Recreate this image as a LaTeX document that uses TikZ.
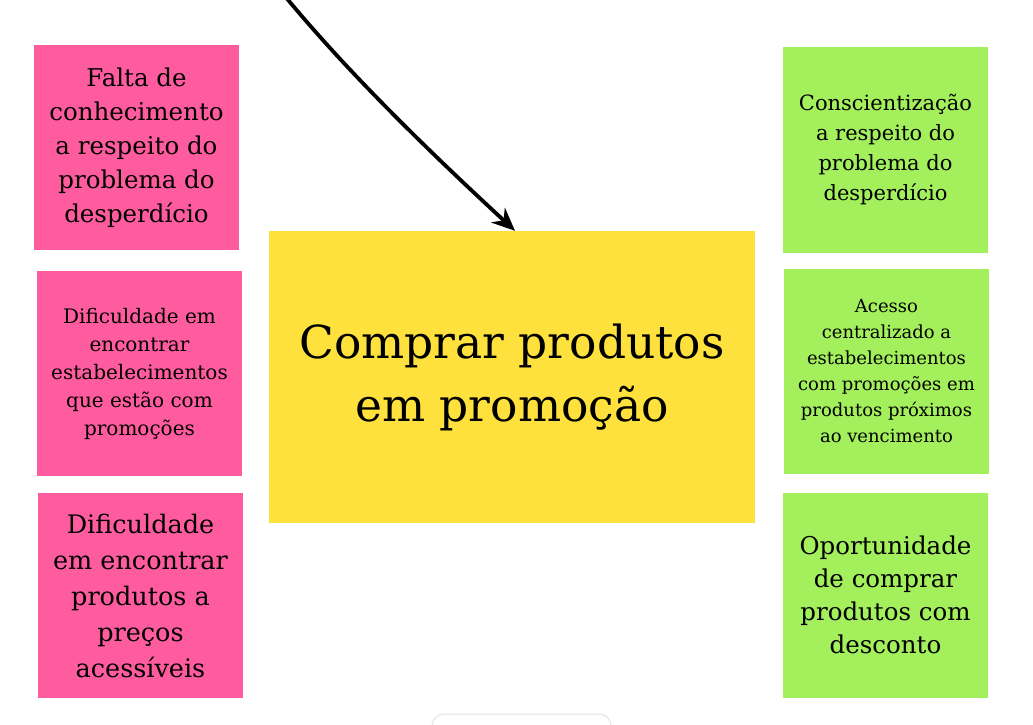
\documentclass[tikz,border=0pt]{standalone}
\usepackage{fontspec}
\setmainfont{DejaVu Serif}
\usetikzlibrary{arrows.meta}
\definecolor{pinkbox}{HTML}{FF5C9F}
\definecolor{yellowbox}{HTML}{FEE13C}
\definecolor{greenbox}{HTML}{A3EF5C}
\definecolor{faintgray}{HTML}{E4E4E4}
\tikzset{
  note/.style={rectangle, inner sep=0pt, align=center, text=black, minimum width=205pt, minimum height=205pt},
  pinknote/.style={note, fill=pinkbox},
  greennote/.style={note, fill=greenbox},
  fs/.style 2 args={font=\fontsize{#1}{#2}\selectfont},
}
\begin{document}
\begin{tikzpicture}[x=1pt,y=-1pt]
\useasboundingbox (0,0) rectangle (1033,725);
\fill[white] (0,0) rectangle (1033,725);
% faint element at the bottom
\begin{scope}
\clip (0,0) rectangle (1033,725);
\draw[faintgray, fill=white, line width=1pt, rounded corners=12pt] (432,714) rectangle (611,760);
\end{scope}
% left notes
\node[pinknote, fs={24.5}{34}] (p1) at (136.5,147.5) {Falta de\\conhecimento\\a respeito do\\problema do\\desperdício};
\node[pinknote, fs={20}{28}] (p2) at (139.5,373.5) {Dificuldade em\\encontrar\\estabelecimentos\\que estão com\\promoções};
\node[pinknote, fs={25.5}{36}] (p3) at (140.5,595.5) {Dificuldade\\em encontrar\\produtos a\\preços\\acessíveis};
% center
\node[rectangle, fill=yellowbox, inner sep=0pt, align=center, minimum width=486pt, minimum height=292pt, fs={45.5}{63}] (c) at (512,377) {Comprar produtos\\em promoção};
% right notes
\node[greennote, fs={21}{30}] (g1) at (885.5,150) {Conscientização\\a respeito do\\problema do\\desperdício};
\node[greennote, fs={18}{26}] (g2) at (886.5,371) {Acesso\\centralizado a\\estabelecimentos\\com promoções em\\produtos próximos\\ao vencimento};
\node[greennote, fs={24.5}{33}] (g3) at (885.5,595) {Oportunidade\\de comprar\\produtos com\\desconto};
% arrow from above
\coordinate (src) at (284,-5);
\draw[line width=3.8pt, -{Stealth[length=23pt,width=20pt]}] (src) .. controls (350,75) and (433,155) .. ([xshift=3pt]c.north);
\end{tikzpicture}
\end{document}
